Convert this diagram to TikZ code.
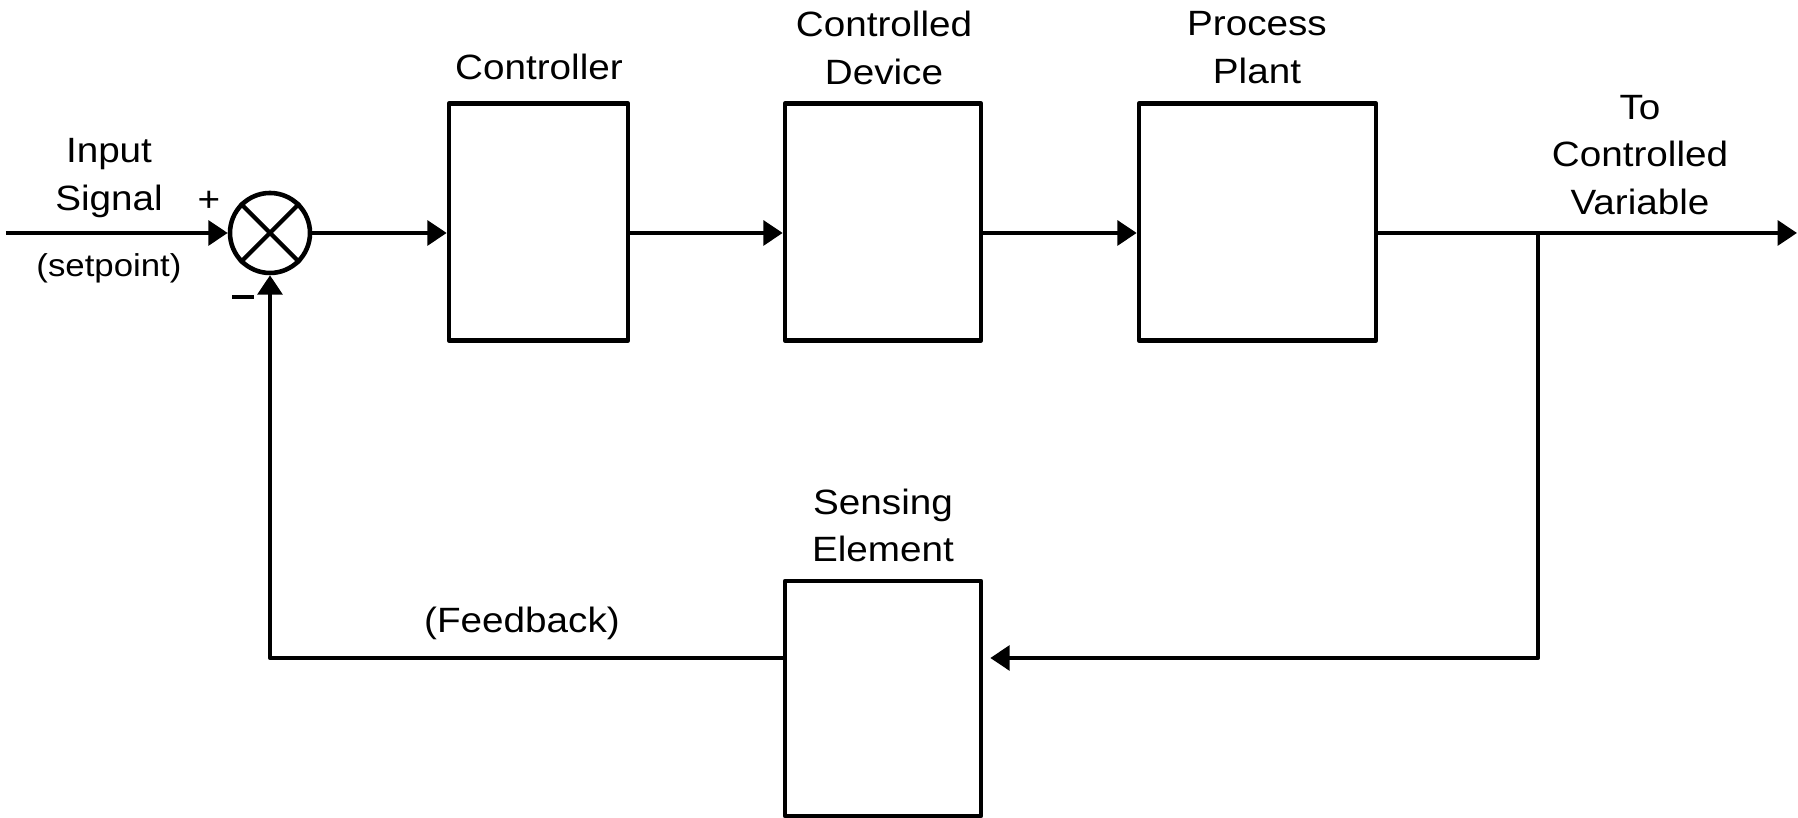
\documentclass[tikz,border=0pt]{standalone}
\usepackage{fontspec}
\setmainfont{Liberation Sans}[FakeStretch=1.1]
\usetikzlibrary{arrows.meta}
\begin{document}
\begin{tikzpicture}[line join=round, >={Triangle[length=5.5pt,width=7pt]}, font=\fontsize{10}{13.6}\selectfont,
	block/.style={draw, line width=1.3pt, minimum width=#1, minimum height=2.37cm, inner sep=0pt},
	sig/.style={line width=1.2pt},
	txt/.style={align=center, inner sep=0pt}]
	\useasboundingbox (0,0) rectangle (17.98,8.18);
	\path
	(0.06,5.85) coordinate (In)
	(17.97,5.85) coordinate (Out)
	(15.38,5.85) coordinate (B)
	(15.38,1.60) coordinate (C);
	
	\node[draw, circle, line width=1.3pt, minimum size=0.8cm, inner sep=0pt] (S) at (2.70,5.85) {};
	\draw[line width=1.2pt] (S.north west) -- (S.south east) (S.north east) -- (S.south west);
	
	\node[block=1.79cm] (Ctrl) at (5.385,5.96) {};
	\node[block=1.96cm] (Dev) at (8.83,5.96) {};
	\node[block=2.37cm] (Plant) at (12.575,5.96) {};
	\node[block=1.96cm, minimum height=2.35cm] (Sense) at (8.83,1.195) {};
	
	\draw[sig,->] (In) -- (S.west);
	\draw[sig,->] (S.east) -- (S.east -| Ctrl.west);
	\draw[sig,->] (S.east -| Ctrl.east) -- (S.east -| Dev.west);
	\draw[sig,->] (S.east -| Dev.east) -- (S.east -| Plant.west);
	\draw[sig,->] (S.east -| Plant.east) -- (Out);
	\draw[sig,->, shorten >=2pt] (B) -- (C) -- (C -| Sense.east);
	\draw[sig,->] (C -| Sense.west) -- (C -| S.south) -- (S.south);
	
	\node[txt, font=\fontsize{9}{11}\selectfont] (SetL) at (1.09,5.50) {(setpoint)};
	\node[txt] (Plus) at (2.09,6.17) {+};
	\node[txt] (Minus) at (2.43,5.21) {\rule{0.22cm}{1.2pt}};
	\foreach \name/\pos/\text in {InL/{1.09,6.40}/{Input\\Signal}, CtrlL/{5.39,7.515}/Controller,
		DevL/{8.84,7.70}/{Controlled\\Device}, PlantL/{12.57,7.70}/{Process\\Plant},
		OutL/{16.40,6.63}/{To\\Controlled\\Variable}, SenseL/{8.83,2.925}/{Sensing\\Element},
		FbL/{5.22,1.95}/(Feedback)}
	\node[txt] (\name) at (\pos) {\text};
\end{tikzpicture}
\end{document}
